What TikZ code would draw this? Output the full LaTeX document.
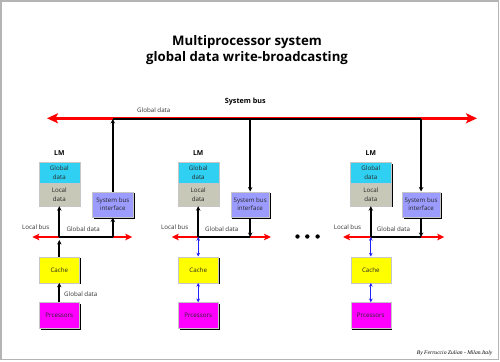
\documentclass[tikz,border=0pt]{standalone}
\usepackage{fontspec}
\setmainfont{Open Sans}
\newfontfamily\footfont{Liberation Serif}
\usetikzlibrary{arrows.meta,shadows}
\definecolor{gcyan}{HTML}{2FD0F2}
\definecolor{lgray}{HTML}{C8C8B8}
\definecolor{lav}{HTML}{9C9CFF}
\definecolor{cacheyel}{HTML}{FFFF00}
\definecolor{procmag}{HTML}{FF00FF}
\definecolor{framec}{HTML}{B4B4B4}
\definecolor{busred}{HTML}{FF0000}
\definecolor{busblue}{HTML}{2222FF}
\definecolor{txtgray}{HTML}{333333}
\begin{document}
\begin{tikzpicture}[x=1pt,y=-1pt,
  box/.style={draw=gray!45, line width=0.4pt,
    drop shadow={shadow xshift=1.4pt,shadow yshift=-1.4pt,opacity=1,fill=black},
    align=center, inner sep=0pt, text=black!85,
    font=\fontsize{6.2}{8.3}\selectfont},
  lmbox/.style={box, minimum width=41pt},
  lowbox/.style={box, minimum width=40pt, minimum height=26pt},
  lbl/.style={font=\fontsize{6.2}{7}\selectfont, text=txtgray, inner sep=0pt},
  lmlbl/.style={font=\fontsize{6.8}{7}\selectfont\bfseries, inner sep=0pt},
  sysbus/.style={draw=busred, line width=3.2pt,
    {Stealth[length=11pt,width=10pt,inset=2.5pt]}-{Stealth[length=11pt,width=10pt,inset=2.5pt]}},
  locbus/.style={draw=busred, line width=2pt,
    {Stealth[length=7pt,width=6.5pt,inset=1.5pt]}-{Stealth[length=7pt,width=6.5pt,inset=1.5pt]}},
  blkline/.style={draw=black, line width=2pt},
  blkarr/.style={draw=black, line width=2pt, -{Stealth[length=4.5pt,width=4.5pt]}},
  bluarr/.style={draw=busblue, line width=1.1pt,
    {Stealth[length=3.8pt,width=3.6pt]}-{Stealth[length=3.8pt,width=3.6pt]}}
]
\useasboundingbox (0,0) rectangle (500,361);
\fill[white] (0,0) rectangle (500,361);
\draw[framec, line width=1.2pt] (1,1) rectangle (498.5,359.5);

% title
\node[align=center, font=\fontsize{13.2}{16.6}\selectfont\bfseries, inner sep=0pt] (title) at (247,50) {Multiprocessor system\\global data write-broadcasting};

% system bus
\node[font=\fontsize{7.2}{8}\selectfont\bfseries, inner sep=0pt] (sbl) at (245.3,101.7) {System bus};
\node[lbl] (sgd) at (153.8,110.3) {Global data};
\coordinate (sbL) at (47,118.3);
\coordinate (sbR) at (477,118.3);
\draw[sysbus] (sbL) -- (sbR);

% modules
\foreach \i/\xm/\xs/\sw/\bl/\br/\lb/\gd in {1/59.3/112.8/41/32.3/132.3/35.7/83.2,
  2/198.2/250.2/38.5/171.7/271/174.7/221.8,
  3/370.8/421.1/38/343/444.3/347.5/393.5}{
  \node[lmlbl] (lm\i) at (\xm,152.7) {LM};
  \node[lmbox, fill=gcyan, minimum height=21pt] (g\i) at (\xm,172.8) {Global\\data};
  \node[lmbox, fill=lgray, minimum height=22.7pt] (l\i) at (\xm,194.65) {Local\\data};
  \node[box, fill=lav, minimum width=\sw pt, minimum height=25.6pt] (s\i) at (\xs,204.5) {System bus\\interface};
  \node[lowbox, fill=cacheyel] (c\i) at (\xm,269.7) {Cache};
  \node[lowbox, fill=procmag] (p\i) at (\xm,315.5) {Prcessors};
  \coordinate (bl\i) at (\bl,237);
  \coordinate (br\i) at (\br,237);
  \coordinate (j\i) at (\xm,237);
  \coordinate (k\i) at (\xs,237);
  \coordinate (t\i) at (\xs,119);
  \draw[locbus] (bl\i) -- (br\i);
  \draw[blkline] (j\i) -- (k\i);
  \draw[blkarr] (j\i) -- (l\i);
  \node[lbl] (lbus\i) at (\lb,226.7) {Local bus};
  \node[lbl] (lgd\i) at (\gd,229) {Global data};
}

% top black line of global data broadcast
\draw[blkline] (t1) -- (t3);
\draw[blkarr] (s1) -- (t1);
\draw[blkarr] (t2) -- (s2);
\draw[blkarr] (t3) -- (s3);
\draw[blkarr] (k1) -- (s1);
\draw[blkarr] (s2) -- (k2);
\draw[blkarr] (s3) -- (k3);

% module 1 processor / cache path
\draw[blkarr, shorten >=3pt] (c1) -- (j1);
\draw[blkarr] (p1) -- (c1);
\node[lbl, anchor=west] (pgd) at (64,294) {Global data};

% modules 2 and 3 (blue links)
\draw[bluarr] (j2) -- (c2);
\draw[bluarr] (c2) -- (p2);
\draw[bluarr] (j3) -- (c3);
\draw[bluarr] (c3) -- (p3);

% ellipsis dots
\fill (297.5,236.5) circle (2.2pt);
\fill (307.3,236.5) circle (2.2pt);
\fill (317.6,236.5) circle (2.2pt);

% footer
\node[anchor=east, inner sep=0pt, font=\footfont\itshape\fontsize{5.6}{6}\selectfont] (foot) at (492.5,352.7) {By Ferruccio Zulian - Milan.Italy};
\end{tikzpicture}
\end{document}
